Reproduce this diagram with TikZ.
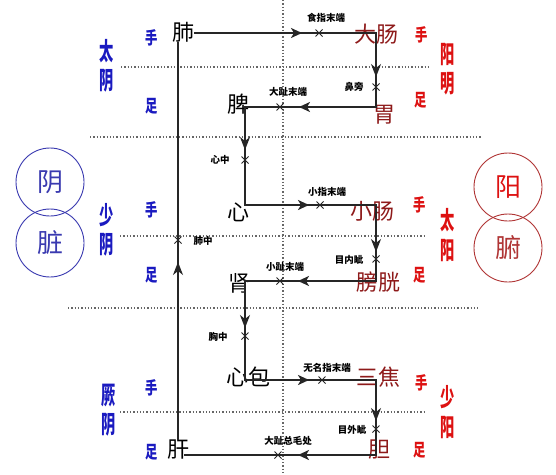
\documentclass[tikz,border=0pt]{standalone}
\usepackage{fontspec}
\newfontfamily\cjk{Noto Sans CJK SC}
\usetikzlibrary{arrows.meta}
\definecolor{yangred}{HTML}{8E1A1A}
\definecolor{lblred}{HTML}{DD1111}
\definecolor{lblblue}{HTML}{1A1AC0}
\definecolor{circblue}{HTML}{3A3AB0}
\definecolor{circred}{HTML}{B03535}
\begin{document}
\begin{tikzpicture}[x=1pt,y=-1pt,
  organ/.style={font=\cjk\fontsize{22}{22}\selectfont, inner sep=0pt},
  yinorg/.style={organ, text=black},
  yangorg/.style={organ, text=yangred},
  pt/.style={font=\cjk\bfseries\fontsize{9.5}{10}\selectfont, inner sep=0pt},
  hf/.style={font=\cjk\bfseries\fontsize{14.5}{14}\selectfont, inner sep=0pt, xscale=0.85, yscale=1.2, transform shape},
  ch/.style={font=\cjk\bfseries\fontsize{19}{22.5}\selectfont, inner sep=0pt, align=center, xscale=0.75, yscale=1.3, transform shape},
  bluetx/.style={text=lblblue},
  redtx/.style={text=lblred},
  circ/.style={circle, minimum size=68pt, inner sep=0pt, line width=0.9pt, font=\cjk\fontsize{26}{26}\selectfont},
  grid/.style={gray!80!black, dotted, line width=1.3pt},
  conn/.style={black!85, line width=1.3pt},
  thickarr/.style={black!85, line width=2.4pt, -{Stealth[length=11pt,width=10pt,inset=3pt]}},
  varr/.style={black!85, line width=1.3pt, -{Stealth[length=13pt,width=10pt,inset=4pt]}},
  pics/xmark/.style={code={\draw[black!85, line width=0.9pt] (-3.5,-3.5)--(3.5,3.5) (-3.5,3.5)--(3.5,-3.5);}}
]
\useasboundingbox (0,0) rectangle (556,474);
\fill[white] (0,0) rectangle (556,474);

% dotted grid
\draw[grid] (283,0) -- (283,474);
\draw[grid] (121,67) -- (428,67);
\draw[grid] (90,137) -- (482,137);
\draw[grid] (120,236) -- (425,236);
\draw[grid] (68,308) -- (478,308);
\draw[grid] (120,412) -- (425,412);

% organs
\node[yinorg] (fei) at (183,32) {肺};
\node[yinorg] (pi) at (238,104) {脾};
\node[yinorg] (xin) at (238,212) {心};
\node[yinorg] (shen) at (239,283) {肾};
\node[yinorg] (xinbao) at (248,377) {心包};
\node[yinorg] (gan) at (178,450) {肝};
\node[yangorg] (dachang) at (376,34) {大肠};
\node[yangorg] (wei) at (384,115) {胃};
\node[yangorg] (xiaochang) at (372,211) {小肠};
\node[yangorg] (pangguang) at (378,282) {膀胱};
\node[yangorg] (sanjiao) at (378,377) {三焦};
\node[yangorg] (dan) at (379,450) {胆};

% corner coordinates
\coordinate (a1) at (376,33);
\coordinate (a2) at (376,107);
\coordinate (b1) at (245,107);
\coordinate (b2) at (245,205);
\coordinate (c1) at (376,205);
\coordinate (c2) at (376,281);
\coordinate (d1) at (245,281);
\coordinate (d2) at (245,380);
\coordinate (e1) at (376,380);
\coordinate (e2) at (376,455);
\coordinate (f1) at (184,455);

% main path
\draw[conn] (fei.east|-a1) -- (a1) -- (a2) -- (b1) -- (b2) -- (c1) -- (c2) -- (d1) -- (d2) -- (e1) -- (e2) -- (f1);
\draw[conn] (gan.north) -- (gan.north|-fei.south);

% thick arrows
\draw[thickarr] (268,33) -- (302,33);
\draw[thickarr] (329,107) -- (299,107);
\draw[thickarr] (277,205) -- (309,205);
\draw[thickarr] (329,281) -- (298,281);
\draw[thickarr] (277,380) -- (309,380);
\draw[thickarr] (329,455) -- (298,455);

% vertical arrowheads
\draw[varr] (376,58) -- (376,77);
\draw[varr] (245,132) -- (245,150);
\draw[varr] (376,233) -- (376,252);
\draw[varr] (245,309) -- (245,328);
\draw[varr] (376,403) -- (376,421);
\draw[varr] (178,280) -- (178,262);

% crosses
\pic at (319,33) {xmark};
\pic at (376,87) {xmark};
\pic at (280,107) {xmark};
\pic at (245,160) {xmark};
\pic at (320,205) {xmark};
\pic at (178,240) {xmark};
\pic at (376,259) {xmark};
\pic at (280,281) {xmark};
\pic at (245,336) {xmark};
\pic at (322,380) {xmark};
\pic at (376,429) {xmark};
\pic at (278,455) {xmark};

% point labels
\node[pt] (l1) at (326,18) {食指末端};
\node[pt] (l2) at (354,87) {鼻旁};
\node[pt] (l3) at (288,92) {大趾末端};
\node[pt] (l4) at (220,160) {心中};
\node[pt] (l5) at (327,192) {小指末端};
\node[pt] (l6) at (203,241) {肺中};
\node[pt] (l7) at (349,260) {目内眦};
\node[pt] (l8) at (285,267) {小趾末端};
\node[pt] (l9) at (218,337) {胸中};
\node[pt] (l10) at (327,368) {无名指末端};
\node[pt] (l11) at (352,430) {目外眦};
\node[pt] (l12) at (288,441) {大趾总毛处};

% left labels (blue)
\node[hf,bluetx] (ls1) at (152,38) {手};
\node[hf,bluetx] (lz1) at (152,106) {足};
\node[ch,bluetx] (lm1) at (107,66) {太\\阴};
\node[hf,bluetx] (ls2) at (152,210) {手};
\node[hf,bluetx] (lz2) at (152,275) {足};
\node[ch,bluetx] (lm2) at (107,230) {少\\阴};
\node[hf,bluetx] (ls3) at (152,388) {手};
\node[hf,bluetx] (lz3) at (152,452) {足};
\node[ch,bluetx] (lm3) at (109,410) {厥\\阴};

% right labels (red)
\node[hf,redtx] (rs1) at (422,35) {手};
\node[hf,redtx] (rz1) at (421,100) {足};
\node[ch,redtx] (rm1) at (448,69) {阳\\明};
\node[hf,redtx] (rs2) at (420,205) {手};
\node[hf,redtx] (rz2) at (420,275) {足};
\node[ch,redtx] (rm2) at (448,235) {太\\阳};
\node[hf,redtx] (rs3) at (422,383) {手};
\node[hf,redtx] (rz3) at (420,450) {足};
\node[ch,redtx] (rm3) at (448,412) {少\\阳};

% circles
\node[circ, draw=circblue, text=circblue] (yin) at (50,182) {阴};
\node[circ, draw=circblue, text=circblue] (zang) at (50,243) {脏};
\node[circ, draw=circred, text=lblred] (yang) at (508,187) {阳};
\node[circ, draw=circred, text=circred] (fu) at (508,248) {腑};
\end{tikzpicture}
\end{document}
